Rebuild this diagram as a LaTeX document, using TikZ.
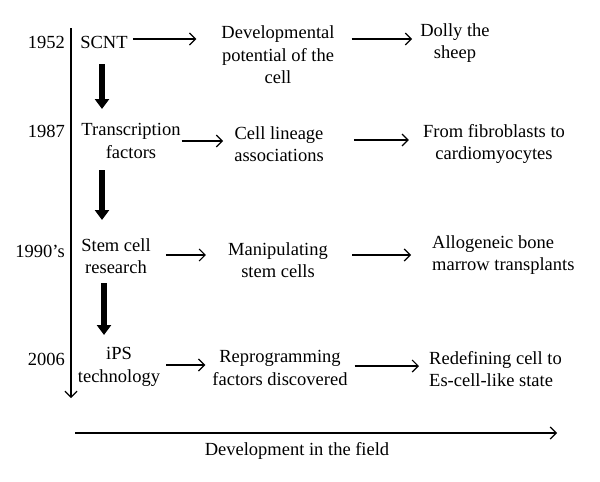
\documentclass[tikz,border=0pt]{standalone}
\usepackage{fontspec}
\setmainfont{Liberation Serif}
\usetikzlibrary{arrows.meta,calc}
\begin{document}
\begin{tikzpicture}[x=1pt,y=-1pt,
  txt/.style={inner sep=0pt, align=center, font=\fontsize{18.5}{22.5}\selectfont},
  ltxt/.style={inner sep=0pt, align=left, anchor=west, font=\fontsize{18.5}{22.5}\selectfont},
  yr/.style={inner sep=0pt, anchor=base east, font=\fontsize{18.5}{22.5}\selectfont},
  ar/.style={-{Straight Barb[length=6pt,width=12pt]}, line width=1.2pt},
  big/.style={-{Triangle[length=10pt,width=14pt]}, line width=6.5pt}]
\useasboundingbox (0,0) rectangle (600,482);
\fill[white] (0,0) rectangle (600,482);
% years
\node[yr] (y1) at (65,48) {1952};
\node[yr] (y2) at (65,137) {1987};
\node[yr] (y3) at (65,257) {1990's};
\node[yr] (y4) at (65,365) {2006};
% column 1
\node[txt] (scnt) at (104,42) {SCNT};
\node[txt] (tf) at (131,141) {Transcription\\factors};
\node[txt] (scr) at (116,256) {Stem cell\\research};
\node[txt] (ips) at (119,367) {iPS\\technology};
% column 2
\node[txt] (dev) at (278,55) {Developmental\\potential of the\\cell};
\node[txt] (cla) at (279,144) {Cell lineage\\associations};
\node[txt] (msc) at (278,260) {Manipulating\\stem cells};
\node[txt] (rfd) at (280,368) {Reprogramming\\factors discovered};
% column 3
\node[txt] (dolly) at (455,43) {Dolly the\\sheep};
\node[txt] (ffc) at (494,144) {From fibroblasts to\\cardiomyocytes};
\node[ltxt] (abm) at (432,255) {Allogeneic bone\\marrow transplants};
\node[ltxt] (rcs) at (429,369) {Redefining cell to\\Es-cell-like state};
% horizontal arrows
\draw[ar] (scnt.east |- 0,39) ++(5,0) -- ($(dev.west |- 0,39)+(-25,0)$);
\draw[ar] (dev.east |- 0,39) ++(17,0) -- ($(dolly.west |- 0,39)+(-8,0)$);
\draw[ar] (tf.east |- 0,141) ++(1,0) -- ($(cla.west |- 0,141)+(-11,0)$);
\draw[ar] (cla.east |- 0,140) ++(30,0) -- ($(ffc.west |- 0,140)+(-14,0)$);
\draw[ar] (scr.east |- 0,255) ++(15,0) -- ($(msc.west |- 0,255)+(-22,0)$);
\draw[ar] (msc.east |- 0,255) ++(24,0) -- ($(abm.west |- 0,255)+(-21,0)$);
\draw[ar] (ips.east |- 0,365) ++(6,0) -- ($(rfd.west |- 0,365)+(-7,0)$);
\draw[ar] (rfd.east |- 0,366) ++(7,0) -- ($(rcs.west |- 0,366)+(-10,0)$);
% thick arrows
\coordinate (t1a) at (102,64);  \coordinate (t1b) at (102,109);
\coordinate (t2a) at (102,170); \coordinate (t2b) at (102,220);
\coordinate (t3a) at (104,283); \coordinate (t3b) at (104,335);
\draw[big] (t1a) -- (t1b);
\draw[big] (t2a) -- (t2b);
\draw[big] (t3a) -- (t3b);
% timeline
\coordinate (tl0) at (71,28); \coordinate (tl1) at (71,398);
\draw[ar] (tl0) -- (tl1);
% bottom arrow
\coordinate (b0) at (75,433); \coordinate (b1) at (557,433);
\draw[ar] (b0) -- (b1);
\node[txt] (dev2) at (297,451) {Development in the field};
\end{tikzpicture}
\end{document}
